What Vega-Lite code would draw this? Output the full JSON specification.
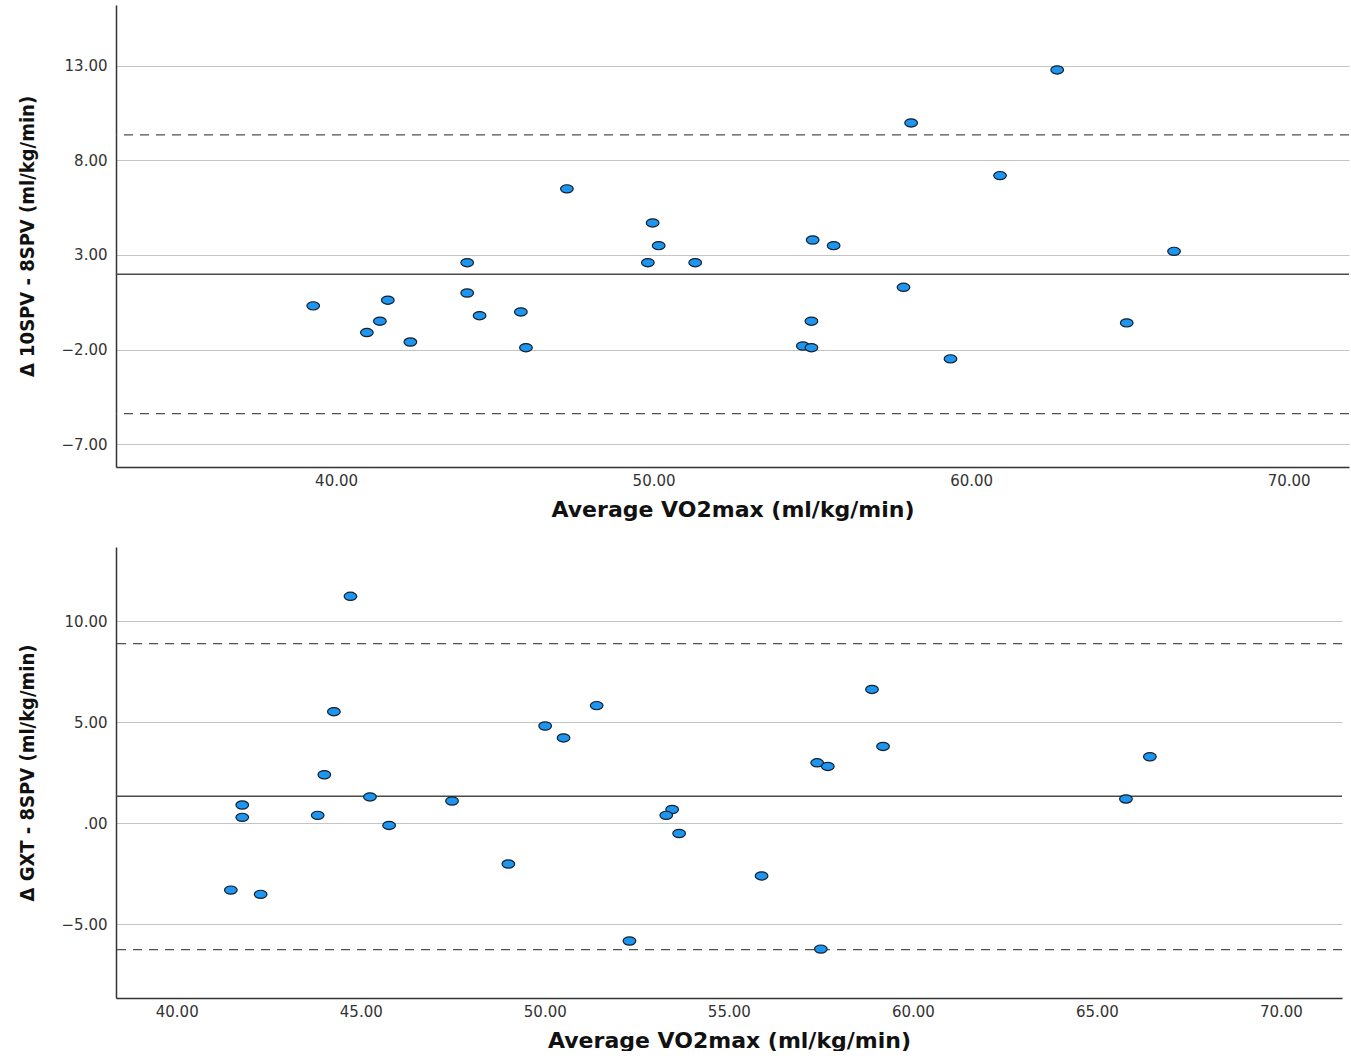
{
  "$schema": "https://vega.github.io/schema/vega-lite/v6.json",
  "background": "white",
  "padding": {"left": 17, "top": 5, "right": 0, "bottom": 0},
  "spacing": 27,
  "config": {
    "view": {"stroke": null},
    "axis": {
      "labelFont": "DejaVu Sans",
      "labelFontSize": 15,
      "labelColor": "#333333",
      "ticks": false,
      "domainColor": "#333333",
      "domainWidth": 1.5,
      "titleColor": "#111111"
    },
    "axisX": {
      "grid": false,
      "labelPadding": 6,
      "titleFont": "DejaVu Sans",
      "titleFontSize": 22,
      "titleFontWeight": "bold",
      "titlePadding": 11
    },
    "axisY": {
      "grid": true,
      "gridColor": "#c4c4c4",
      "gridWidth": 1,
      "labelPadding": 9,
      "titleFont": "DejaVu Sans Condensed, Liberation Sans, sans-serif",
      "titleFontSize": 20,
      "titleFontWeight": "bold",
      "titlePadding": 24
    }
  },
  "datasets": {
    "top": [
      {"avg": 39.28, "diff": 0.31}, {"avg": 41.63, "diff": 0.61}, {"avg": 41.38, "diff": -0.50},
      {"avg": 40.97, "diff": -1.10}, {"avg": 42.34, "diff": -1.60}, {"avg": 44.13, "diff": 2.59},
      {"avg": 44.13, "diff": 0.99}, {"avg": 44.52, "diff": -0.21}, {"avg": 45.82, "diff": -0.01},
      {"avg": 45.98, "diff": -1.90}, {"avg": 47.27, "diff": 6.49}, {"avg": 49.97, "diff": 4.69},
      {"avg": 50.16, "diff": 3.49}, {"avg": 49.82, "diff": 2.59}, {"avg": 51.31, "diff": 2.59},
      {"avg": 55.01, "diff": 3.79}, {"avg": 55.67, "diff": 3.49}, {"avg": 54.97, "diff": -0.50},
      {"avg": 54.70, "diff": -1.81}, {"avg": 54.97, "diff": -1.90}, {"avg": 57.87, "diff": 1.29},
      {"avg": 58.11, "diff": 9.97}, {"avg": 62.71, "diff": 12.77}, {"avg": 60.91, "diff": 7.19},
      {"avg": 66.39, "diff": 3.19}, {"avg": 64.90, "diff": -0.59}, {"avg": 59.35, "diff": -2.49}
    ],
    "bottom": [
      {"avg": 44.72, "diff": 11.24}, {"avg": 44.27, "diff": 5.53}, {"avg": 44.01, "diff": 2.41},
      {"avg": 45.25, "diff": 1.31}, {"avg": 41.78, "diff": 0.91}, {"avg": 41.78, "diff": 0.30},
      {"avg": 43.83, "diff": 0.40}, {"avg": 45.77, "diff": -0.10}, {"avg": 41.47, "diff": -3.30},
      {"avg": 42.28, "diff": -3.51}, {"avg": 47.48, "diff": 1.11}, {"avg": 49.01, "diff": -2.01},
      {"avg": 50.01, "diff": 4.82}, {"avg": 50.51, "diff": 4.23}, {"avg": 51.41, "diff": 5.83},
      {"avg": 52.30, "diff": -5.82}, {"avg": 53.46, "diff": 0.69}, {"avg": 53.30, "diff": 0.40},
      {"avg": 53.65, "diff": -0.50}, {"avg": 55.89, "diff": -2.60}, {"avg": 57.40, "diff": 3.00},
      {"avg": 57.69, "diff": 2.82}, {"avg": 58.89, "diff": 6.63}, {"avg": 59.19, "diff": 3.81},
      {"avg": 57.50, "diff": -6.22}, {"avg": 66.44, "diff": 3.30}, {"avg": 65.79, "diff": 1.21}
    ],
    "topLines": [
      {"value": 1.98, "kind": "mean"}, {"value": 9.34, "kind": "limit"}, {"value": -5.38, "kind": "limit"}
    ],
    "bottomLines": [
      {"value": 1.34, "kind": "mean"}, {"value": 8.90, "kind": "limit"}, {"value": -6.25, "kind": "limit"}
    ]
  },
  "vconcat": [
    {
      "width": 1233,
      "height": 462,
      "layer": [
        {
          "data": {"name": "topLines"},
          "transform": [{"filter": "datum.kind == 'limit'"}],
          "mark": {"type": "rule", "color": "#505050", "strokeWidth": 1.3, "strokeDash": [9, 7]},
          "encoding": {
            "y": {"field": "value", "type": "quantitative", "scale": {"domain": [-8.2, 16.2], "nice": false, "zero": false}}
          }
        },
        {
          "data": {"name": "topLines"},
          "transform": [{"filter": "datum.kind == 'mean'"}],
          "mark": {"type": "rule", "color": "#4a4a4a", "strokeWidth": 1.5},
          "encoding": {
            "y": {"field": "value", "type": "quantitative"}
          }
        },
        {
          "data": {"name": "top"},
          "mark": {"type": "point", "shape": "M-1,0A1,0.65,0,1,0,1,0A1,0.65,0,1,0,-1,0Z", "filled": true, "fill": "#1e95ee", "fillOpacity": 1, "stroke": "#14202e", "strokeWidth": 1.2, "strokeOpacity": 1, "size": 160},
          "encoding": {
            "x": {"field": "avg", "type": "quantitative", "scale": {"domain": [33.07, 71.9], "nice": false, "zero": false},
                  "axis": {"title": "Average VO2max (ml/kg/min)", "values": [40, 50, 60, 70], "format": ".2f"}},
            "y": {"field": "diff", "type": "quantitative",
                  "axis": {"title": "Δ 10SPV - 8SPV (ml/kg/min)", "values": [-7, -2, 3, 8, 13], "labelExpr": "datum.value == 0 ? '.00' : format(datum.value, '.2f')"}}
          }
        }
      ]
    },
    {
      "width": 1226,
      "height": 451,
      "layer": [
        {
          "data": {"name": "bottomLines"},
          "transform": [{"filter": "datum.kind == 'limit'"}],
          "mark": {"type": "rule", "color": "#505050", "strokeWidth": 1.3, "strokeDash": [9, 7]},
          "encoding": {
            "y": {"field": "value", "type": "quantitative", "scale": {"domain": [-8.64, 13.68], "nice": false, "zero": false}}
          }
        },
        {
          "data": {"name": "bottomLines"},
          "transform": [{"filter": "datum.kind == 'mean'"}],
          "mark": {"type": "rule", "color": "#4a4a4a", "strokeWidth": 1.5},
          "encoding": {
            "y": {"field": "value", "type": "quantitative"}
          }
        },
        {
          "data": {"name": "bottom"},
          "mark": {"type": "point", "shape": "M-1,0A1,0.65,0,1,0,1,0A1,0.65,0,1,0,-1,0Z", "filled": true, "fill": "#1e95ee", "fillOpacity": 1, "stroke": "#14202e", "strokeWidth": 1.2, "strokeOpacity": 1, "size": 160},
          "encoding": {
            "x": {"field": "avg", "type": "quantitative", "scale": {"domain": [38.35, 71.66], "nice": false, "zero": false},
                  "axis": {"title": "Average VO2max (ml/kg/min)", "values": [40, 45, 50, 55, 60, 65, 70], "format": ".2f"}},
            "y": {"field": "diff", "type": "quantitative",
                  "axis": {"title": "Δ GXT - 8SPV (ml/kg/min)", "values": [-5, 0, 5, 10], "labelExpr": "datum.value == 0 ? '.00' : format(datum.value, '.2f')"}}
          }
        }
      ]
    }
  ]
}
